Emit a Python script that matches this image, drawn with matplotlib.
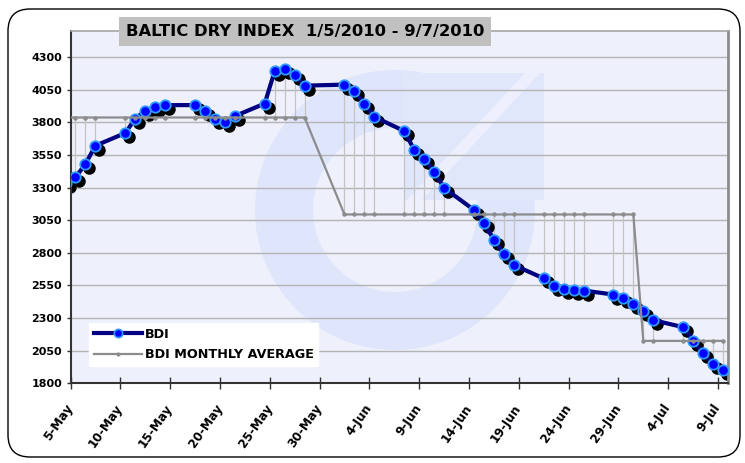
import pandas as pd
import numpy as np
import matplotlib
matplotlib.use('Agg')
import matplotlib.pyplot as plt
from matplotlib.patches import FancyBboxPatch, Rectangle, Wedge, Polygon
from matplotlib.lines import Line2D
from matplotlib.transforms import offset_copy

# BDI closing values, trading days 4 May - 9 Jul 2010
dates = ['2010-05-04', '2010-05-05', '2010-05-06', '2010-05-07',
         '2010-05-10', '2010-05-11', '2010-05-12', '2010-05-13', '2010-05-14',
         '2010-05-17', '2010-05-18', '2010-05-19', '2010-05-20', '2010-05-21',
         '2010-05-24', '2010-05-25', '2010-05-26', '2010-05-27', '2010-05-28',
         '2010-06-01', '2010-06-02', '2010-06-03', '2010-06-04',
         '2010-06-07', '2010-06-08', '2010-06-09', '2010-06-10', '2010-06-11',
         '2010-06-14', '2010-06-15', '2010-06-16', '2010-06-17', '2010-06-18',
         '2010-06-21', '2010-06-22', '2010-06-23', '2010-06-24', '2010-06-25',
         '2010-06-28', '2010-06-29', '2010-06-30',
         '2010-07-01', '2010-07-02',
         '2010-07-05', '2010-07-06', '2010-07-07', '2010-07-08', '2010-07-09']
bdi = [3338, 3378, 3481, 3621,
       3718, 3829, 3888, 3919, 3932,
       3932, 3888, 3829, 3799, 3848,
       3944, 4194, 4211, 4165, 4081,
       4089, 4038, 3944, 3842,
       3733, 3590, 3521, 3422, 3297,
       3129, 3027, 2902, 2788, 2706,
       2604, 2549, 2526, 2513, 2511,
       2480, 2454, 2411,
       2355, 2284,
       2230, 2128, 2029, 1950, 1902]
# monthly average level per month
monthly_avg = {5: 3837, 6: 3094, 7: 2125}

y_ticks = [1800, 2050, 2300, 2550, 2800, 3050, 3300, 3550, 3800, 4050, 4300]
title = 'BALTIC DRY INDEX  1/5/2010 - 9/7/2010'

df = pd.DataFrame({'date': pd.to_datetime(dates), 'bdi': bdi})
df['avg'] = df['date'].dt.month.map(monthly_avg)
# Excel puts the points in the middle of each day
df['x'] = df['date'] + pd.Timedelta(hours=12)

W, H = 745, 463
fig = plt.figure(figsize=(W / 100, H / 100), dpi=100)
fig.patch.set_facecolor('white')

# rounded chart border
border = FancyBboxPatch((0.08, 0.06), 7.32, 4.48,
                        boxstyle='round,pad=0,rounding_size=0.22',
                        transform=fig.dpi_scale_trans, facecolor='none',
                        edgecolor='black', lw=1.0, zorder=0)
fig.patches.append(border)

ax = fig.add_axes([70.5 / W, 1 - 383.3 / H, (728 - 70.5) / W, (383.3 - 31) / H])
ax.set_facecolor('#EEF0FC')

# faint logo watermark
ring = Wedge((3.95, 2.53), 1.40, 0, 360, width=0.58, transform=fig.dpi_scale_trans,
             facecolor='#DFE5FB', edgecolor='none', zorder=0.1)
ax.add_patch(ring)
square = Rectangle((4.04, 2.63), 1.40, 1.27, transform=fig.dpi_scale_trans,
                   facecolor='#E1E7FB', edgecolor='none', zorder=0.15)
ax.add_patch(square)
stripe = Polygon([(5.25, 3.90), (5.40, 3.90), (4.22, 2.63), (4.07, 2.63)], closed=True,
                 transform=fig.dpi_scale_trans, facecolor='#EDF0FC', edgecolor='none', zorder=0.2)
ax.add_patch(stripe)
for p in (ring, square, stripe):
    p.set_clip_path(ax.patch)

# high-low lines between the two series
ax.vlines(df['x'], np.minimum(df['bdi'], df['avg']), np.maximum(df['bdi'], df['avg']),
          color='#C4C4C4', lw=0.9, zorder=1)

# marker shadows
shadow = offset_copy(ax.transData, fig=fig, x=4, y=-4, units='dots')
ax.plot(df['x'], df['bdi'], ls='none', marker='o', ms=8, mfc='black', mec='black',
        transform=shadow, zorder=2)

ax.plot(df['x'], df['bdi'], color='#000080', lw=3, marker='o', ms=7.5,
        mfc='#0000FF', mec='#2E9BFF', mew=1.3, zorder=3, label='BDI')
ax.plot(df['x'], df['avg'], color='#8C8C8C', lw=1.6, marker='o', ms=2.2,
        mfc='#8C8C8C', mec='#8C8C8C', zorder=4, label='BDI MONTHLY AVERAGE')

ax.set_xlim(pd.Timestamp('2010-05-05'), pd.Timestamp('2010-07-10'))
ax.set_ylim(1800, 4500)
ax.set_yticks(y_ticks)
xt = pd.date_range('2010-05-05', '2010-07-09', freq='5D')
ax.set_xticks(xt)
ax.set_xticklabels([f"{d.day}-{d.strftime('%b')}" for d in xt], rotation=55,
                   ha='right', va='center', rotation_mode='anchor')

ax.grid(axis='y', color='#B4B4B4', lw=1)
ax.set_axisbelow(True)
ax.tick_params(axis='x', direction='inout', length=8, width=1, colors='#333333',
               labelcolor='black', labelsize=8.7, pad=12)
ax.tick_params(axis='y', direction='out', length=3, width=1, colors='#333333',
               labelcolor='black', labelsize=8, pad=3)
for lab in ax.get_xticklabels() + ax.get_yticklabels():
    lab.set_fontweight('bold')

ax.spines['left'].set_color('#333333')
ax.spines['left'].set_linewidth(1.5)
ax.spines['bottom'].set_color('#333333')
ax.spines['bottom'].set_linewidth(1.5)
ax.spines['top'].set_color('#A6A6A6')
ax.spines['top'].set_linewidth(1.2)
ax.spines['right'].set_color('#8C8C8C')
ax.spines['right'].set_linewidth(2)

handles = [Line2D([], [], color='#000080', lw=3, marker='o', ms=6,
                  mfc='#0000FF', mec='#2E9BFF', mew=1.2),
           Line2D([], [], color='#8C8C8C', lw=1.6, marker='o', ms=2,
                  mfc='#8C8C8C', mec='#8C8C8C')]
leg = ax.legend(handles, ['BDI', 'BDI MONTHLY AVERAGE'], loc='lower left',
                bbox_to_anchor=(0.0286, 0.05), borderaxespad=0, frameon=True,
                fancybox=False, facecolor='white', edgecolor='white', framealpha=1,
                handlelength=3.75, handletextpad=0.27, labelspacing=0.6, borderpad=0.35,
                prop={'weight': 'bold', 'size': 9.2})
leg.set_zorder(6)

# title in a grey box across the top of the plot area
fig.patches.append(Rectangle((119.3 / W, 1 - 46 / H), (491 - 119.3) / W, 28.7 / H,
                             transform=fig.transFigure, facecolor='#C0C0C0',
                             edgecolor='none', zorder=5))
fig.text(305 / W, 1 - 31.7 / H, title, ha='center', va='center',
         fontsize=11.8, fontweight='bold', color='black', zorder=6)

fig.savefig('out.png', dpi=100)
